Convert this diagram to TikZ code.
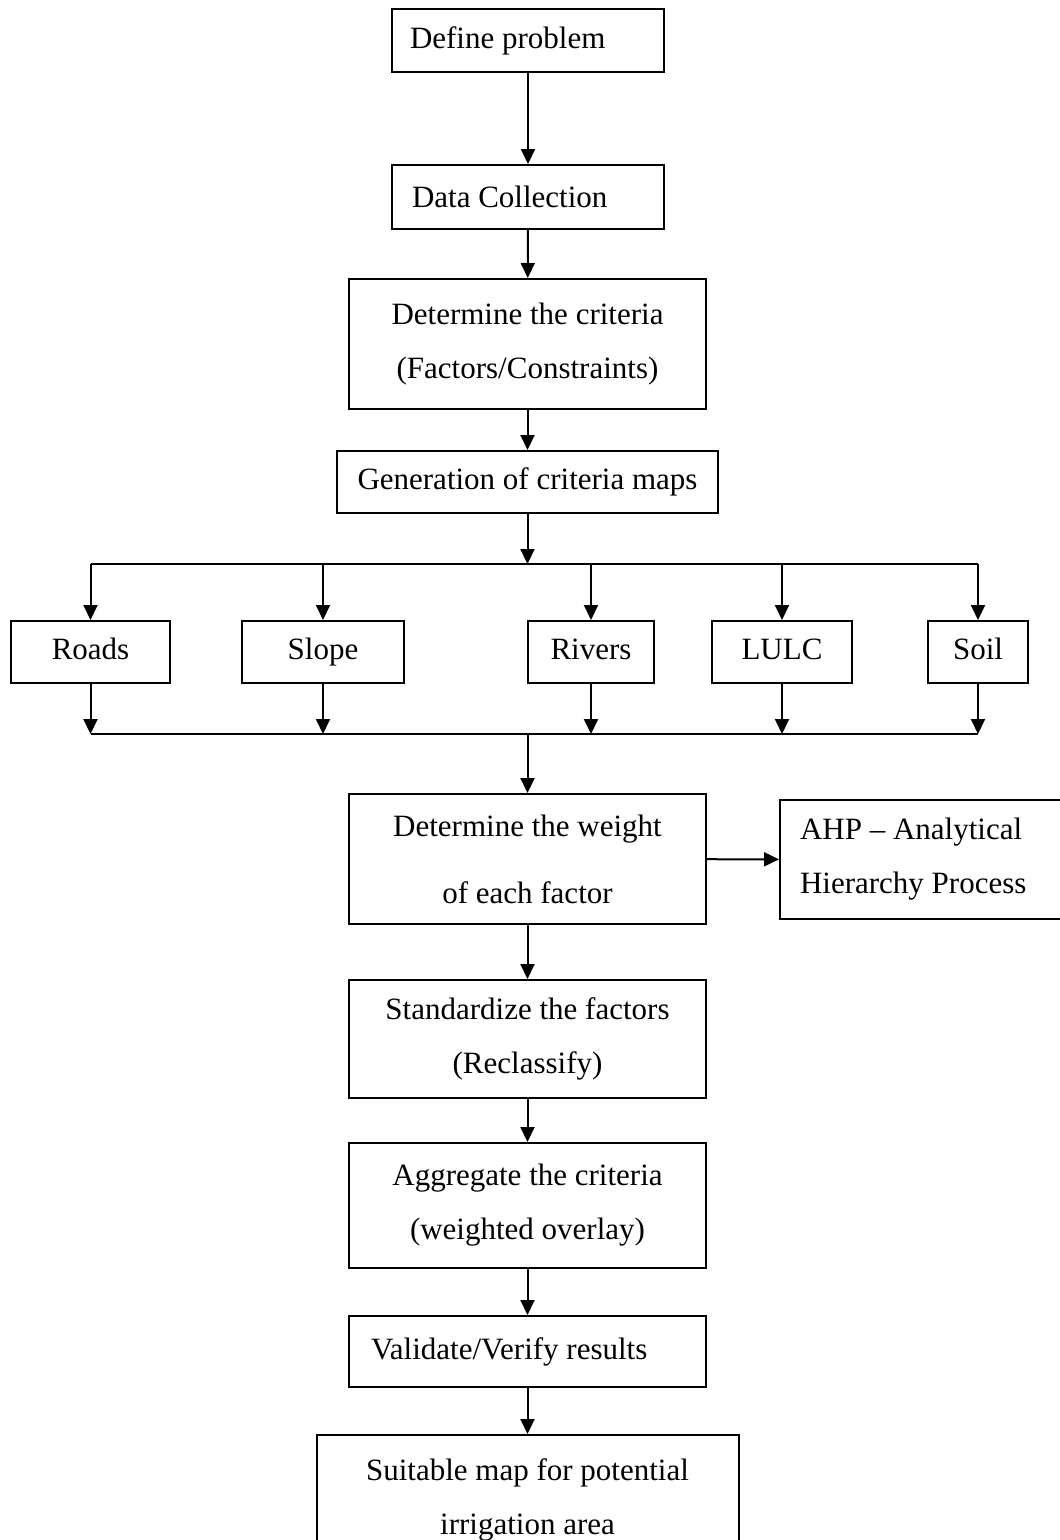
\documentclass[tikz,border=0pt]{standalone}
\usepackage{fontspec}
\setmainfont{Liberation Serif}
\usetikzlibrary{arrows.meta}

\begin{document}
\begin{tikzpicture}[x=1pt,y=-1pt,
    box/.style={draw=black,line width=2pt,fill=white,font=\fontsize{31}{54}\selectfont,align=center,inner sep=0pt},
    lbox/.style n args={2}{box,align=flush left,inner xsep=#1,text width=#2},
    flow/.style={line width=2pt,-{Triangle[width=14pt,length=15pt]}},
    link/.style={line width=2pt}]
    \useasboundingbox (0,0) rectangle (1060,1540);
    % main column
    \node[lbox={18pt}{236pt},minimum height=63pt] (define) at (528,40.5) {Define problem};
    \node[lbox={20pt}{232pt},minimum height=64pt] (data) at (528,197) {Data Collection};
    \node[box,minimum width=357pt,minimum height=130pt] (crit) at (527.5,344) {Determine the criteria\\(Factors/Constraints)};
    \node[box,minimum width=381pt,minimum height=62pt] (gen) at (527.5,482) {Generation of criteria maps};
    % criteria maps
    \foreach \name/\txt/\xc/\w in {roads/Roads/90.5/159pt,slope/Slope/323/162pt,rivers/Rivers/591/126pt,lulc/LULC/782/140pt,soil/Soil/978/100pt}
        \node[box,minimum width=\w,minimum height=62pt,text height=21pt,text depth=7pt] (\name) at (\xc,652) {\txt};
    \node[box,minimum width=357pt,minimum height=130pt] (weight) at (527.5,859) {Determine the weight\\[13pt]of each factor};
    \node[lbox={20pt}{244pt},minimum height=119pt] (ahp) at (922,859.5) {AHP -- Analytical\\Hierarchy Process};
    \node[box,minimum width=357pt,minimum height=118pt] (std) at (527.5,1039) {Standardize the factors\\(Reclassify)};
    \node[box,minimum width=357pt,minimum height=125pt] (agg) at (527.5,1205.5) {Aggregate the criteria\\(weighted overlay)};
    \node[lbox={22pt}{313pt},minimum height=71pt] (valid) at (527.5,1351.5) {Validate/Verify results};
    \node[box,minimum width=422pt,minimum height=130pt] (suit) at (527.5,1500) {Suitable map for potential\\irrigation area};
    \coordinate (split) at (527.5,564);
    \coordinate (merge) at (527.5,734);
    % connectors
    \draw[flow] (define) -- (data);
    \draw[flow] (data) -- (crit);
    \draw[flow] (crit) -- (gen);
    \draw[flow] (gen.south) -- (split);
    \draw[link] (roads.north |- split) -- (soil.north |- split);
    \draw[link] (roads.south |- merge) -- (soil.south |- merge);
    \foreach \name in {roads,slope,rivers,lulc,soil}{
        \draw[flow] (\name.north |- split) -- (\name.north);
        \draw[flow] (\name.south) -- (\name.south |- merge);
    }
    \draw[flow] (merge) -- (weight.north);
    \draw[flow] (weight) -- (ahp);
    \draw[flow] (weight) -- (std);
    \draw[flow] (std) -- (agg);
    \draw[flow] (agg) -- (valid);
    \draw[flow] (valid) -- (suit);
\end{tikzpicture}
\end{document}
